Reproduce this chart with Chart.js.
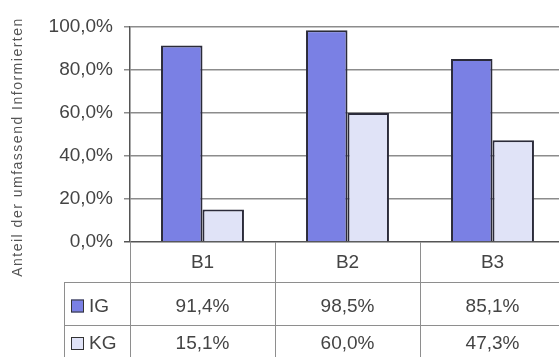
<!DOCTYPE html>
<html>
<head>
<meta charset="utf-8">
<script src="https://cdn.jsdelivr.net/npm/chart.js@4"></script>
<style>
  body { margin: 0; background: #fff; overflow: hidden; }
  #wrap { width: 559px; height: 357px; overflow: hidden; position: relative; }
  #chart { position: absolute; left: 0; top: 0; }
</style>
</head>
<body>
<div id="wrap"><canvas id="chart" width="566" height="357"></canvas></div>
<script>
// values
var categories = ['B1', 'B2', 'B3'];
var seriesNames = ['IG', 'KG'];
var igValues = [91.4, 98.5, 85.1];
var kgValues = [15.1, 60.0, 47.3];
var yTicks = [0, 20, 40, 60, 80, 100];
var yTitle = 'Anteil der umfassend Informierten';

var fontFamily = '"Liberation Sans", Arial, sans-serif';
var textColor = '#444';
var lineColor = '#8e8e8e';
var fills = ['#7a80e4', '#e0e3f7'];

function pct(v) {
  return v.toFixed(1).replace('.', ',') + '%';
}

// draws the data table under the plot and the rotated axis title
var tablePlugin = {
  id: 'dataTable',
  afterDraw: function(chart) {
    var ctx = chart.ctx;
    var area = chart.chartArea;
    var x = chart.scales.x;
    var half = (x.getPixelForValue(1) - x.getPixelForValue(0)) / 2;
    var rows = [area.bottom, 282, 325, 357];
    var labelLeft = 64;
    var sets = chart.data.datasets;

    ctx.save();
    ctx.strokeStyle = lineColor;
    ctx.lineWidth = 1;
    ctx.beginPath();
    // vertical lines at category edges
    for (var i = 0; i < categories.length; i++) {
      var edge = Math.round(x.getPixelForValue(i) - half) + 0.5;
      ctx.moveTo(edge, rows[0]);
      ctx.lineTo(edge, rows[3]);
    }
    ctx.moveTo(labelLeft + 0.5, rows[1]);
    ctx.lineTo(labelLeft + 0.5, rows[3]);
    ctx.moveTo(labelLeft, rows[1] + 0.5);
    ctx.lineTo(chart.width, rows[1] + 0.5);
    ctx.moveTo(labelLeft, rows[2] + 0.5);
    ctx.lineTo(chart.width, rows[2] + 0.5);
    ctx.stroke();

    ctx.fillStyle = textColor;
    ctx.font = '19px ' + fontFamily;
    ctx.textAlign = 'center';
    ctx.textBaseline = 'middle';
    categories.forEach(function(c, i) {
      ctx.fillText(c, x.getPixelForValue(i), (rows[0] + rows[1]) / 2 + 1);
    });

    sets.forEach(function(ds, r) {
      var cy = (rows[r + 1] + rows[r + 2]) / 2 + 2;
      ctx.fillStyle = ds.backgroundColor;
      ctx.strokeStyle = '#333';
      ctx.fillRect(71, cy - 6, 13, 13);
      ctx.strokeRect(71.5, cy - 5.5, 12, 12);
      ctx.fillStyle = textColor;
      ctx.textAlign = 'left';
      ctx.fillText(ds.label, 89, cy + 1);
      ctx.textAlign = 'center';
      ds.data.forEach(function(v, i) {
        ctx.fillText(pct(v), x.getPixelForValue(i), cy + 1);
      });
    });

    // axis title
    ctx.translate(18, 147);
    ctx.rotate(-Math.PI / 2);
    ctx.font = '14px ' + fontFamily;
    ctx.letterSpacing = '1.5px';
    ctx.fillStyle = '#555';
    ctx.textAlign = 'center';
    ctx.fillText(yTitle, 0, 0);
    ctx.restore();
  }
};

new Chart(document.getElementById('chart'), {
  type: 'bar',
  data: {
    labels: categories,
    datasets: [
      {
        label: seriesNames[0],
        data: igValues,
        backgroundColor: fills[0],
        borderColor: '#2b2b3a',
        borderWidth: 2
      },
      {
        label: seriesNames[1],
        data: kgValues,
        backgroundColor: fills[1],
        borderColor: '#2b2b3a',
        borderWidth: 2
      }
    ]
  },
  options: {
    responsive: false,
    animation: false,
    layout: {
      padding: { left: 0, top: 27, right: 1, bottom: 115 }
    },
    plugins: {
      legend: { display: false },
      tooltip: { enabled: false }
    },
    datasets: {
      bar: { categoryPercentage: 0.572, barPercentage: 1.0 }
    },
    scales: {
      x: {
        display: false
      },
      y: {
        min: 0,
        max: 100,
        afterFit: function(scale) { scale.width = 130; },
        afterBuildTicks: function(scale) {
          scale.ticks = yTicks.map(function(v) { return { value: v }; });
        },
        ticks: {
          padding: 11,
          color: textColor,
          font: { family: fontFamily, size: 19 },
          callback: function(v) { return pct(v); }
        },
        grid: {
          color: function(c) { return c.tick && c.tick.value === 0 ? '#555' : '#8c8c8c'; },
          lineWidth: 1.5,
          tickLength: 6
        },
        border: { color: '#555', width: 1.5 }
      }
    }
  },
  plugins: [tablePlugin]
});
</script>
</body>
</html>
